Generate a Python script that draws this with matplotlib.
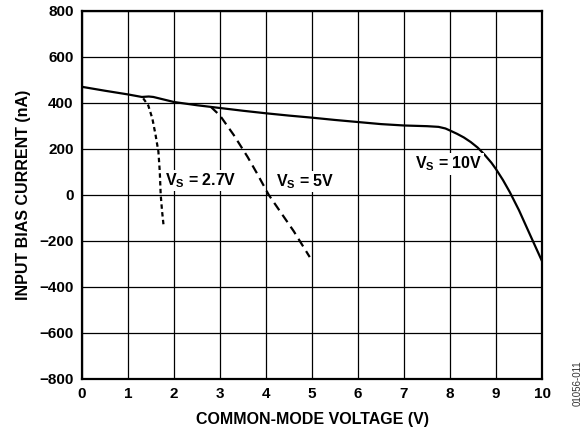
import numpy as np
import matplotlib
matplotlib.use("Agg")
import matplotlib.pyplot as plt

plt.rcParams['font.family'] = ['Liberation Sans', 'DejaVu Sans']
plt.rcParams['mathtext.fontset'] = 'custom'
plt.rcParams['mathtext.rm'] = 'Liberation Sans:bold'
plt.rcParams['mathtext.bf'] = 'Liberation Sans:bold'
plt.rcParams['mathtext.it'] = 'Liberation Sans:bold'

# VS = 10V (solid)
vcm_10 = [0, 0.5, 1.0, 1.3, 1.45, 1.55, 2.0, 2.5, 3.0, 3.5, 4.0, 4.5, 5.0, 5.5, 6.0,
          6.5, 7.0, 7.5, 7.75, 7.9, 8.0, 8.15, 8.3, 8.45, 8.6, 8.75, 8.9, 9.0, 9.15,
          9.3, 9.5, 9.75, 10.0]
ib_10 = [470, 453, 437, 426, 428, 426, 404, 390, 378, 366, 355, 345, 336, 326, 317,
         308, 302, 299, 296, 289, 280, 266, 250, 230, 206, 175, 140, 112, 65,
         12, -67, -178, -288]

# VS = 2.7V (short dash)
vcm_27 = [1.33, 1.44, 1.53, 1.60, 1.66, 1.69, 1.71, 1.74, 1.77]
ib_27 = [420, 389, 331, 259, 188, 101, 1, -71, -128]

# VS = 5V (long dash)
vcm_5 = [2.80, 3.0, 3.3, 3.6, 3.8, 4.06, 4.3, 4.6, 4.95]
ib_5 = [383, 345, 260, 165, 95, 0, -70, -157, -270]

xticks = np.arange(0, 11, 1)
yticks = np.arange(-800, 801, 200)

fig = plt.figure(figsize=(5.86, 4.32), dpi=100)
ax = fig.add_axes([0.14, 0.1227, 0.785, 0.852])

ax.plot(vcm_10, ib_10, color='black', lw=1.6, solid_joinstyle='round', zorder=3)
ax.plot(vcm_27, ib_27, color='black', lw=1.6, linestyle=(0, (2.0, 1.5)), zorder=3)
ax.plot(vcm_5, ib_5, color='black', lw=1.6, linestyle=(0, (4.0, 2.5)), zorder=3)

ax.set_xlim(0, 10)
ax.set_ylim(-800, 800)
ax.set_xticks(xticks)
ax.set_yticks(yticks)
ax.grid(True, color='black', lw=0.9)
ax.set_axisbelow(True)
ax.tick_params(length=0, labelsize=11, pad=6)
for lab in ax.get_xticklabels() + ax.get_yticklabels():
    lab.set_fontweight('bold')
for sp in ax.spines.values():
    sp.set_linewidth(1.6)

ax.set_xlabel('COMMON-MODE VOLTAGE (V)', fontsize=11.5, fontweight='bold', labelpad=8)
ax.set_ylabel('INPUT BIAS CURRENT (nA)', fontsize=11.5, fontweight='bold', labelpad=6)

box = dict(facecolor='white', edgecolor='none', pad=1.0)
ax.text(1.80, 62, r'V$_\mathrm{S}$ = 2.7V', fontsize=11.5, fontweight='bold',
        ha='left', va='center', bbox=box, zorder=4)
ax.text(4.22, 58, r'V$_\mathrm{S}$ = 5V', fontsize=11.5, fontweight='bold',
        ha='left', va='center', bbox=box, zorder=4)
ax.text(7.24, 135, r'V$_\mathrm{S}$ = 10V', fontsize=11.5, fontweight='bold',
        ha='left', va='center', bbox=box, zorder=4)

fig.text(0.986, 0.06, '01056-011', rotation=90, fontsize=7, ha='center',
         va='bottom', color='#333333')

fig.savefig('out.png', dpi=100)
